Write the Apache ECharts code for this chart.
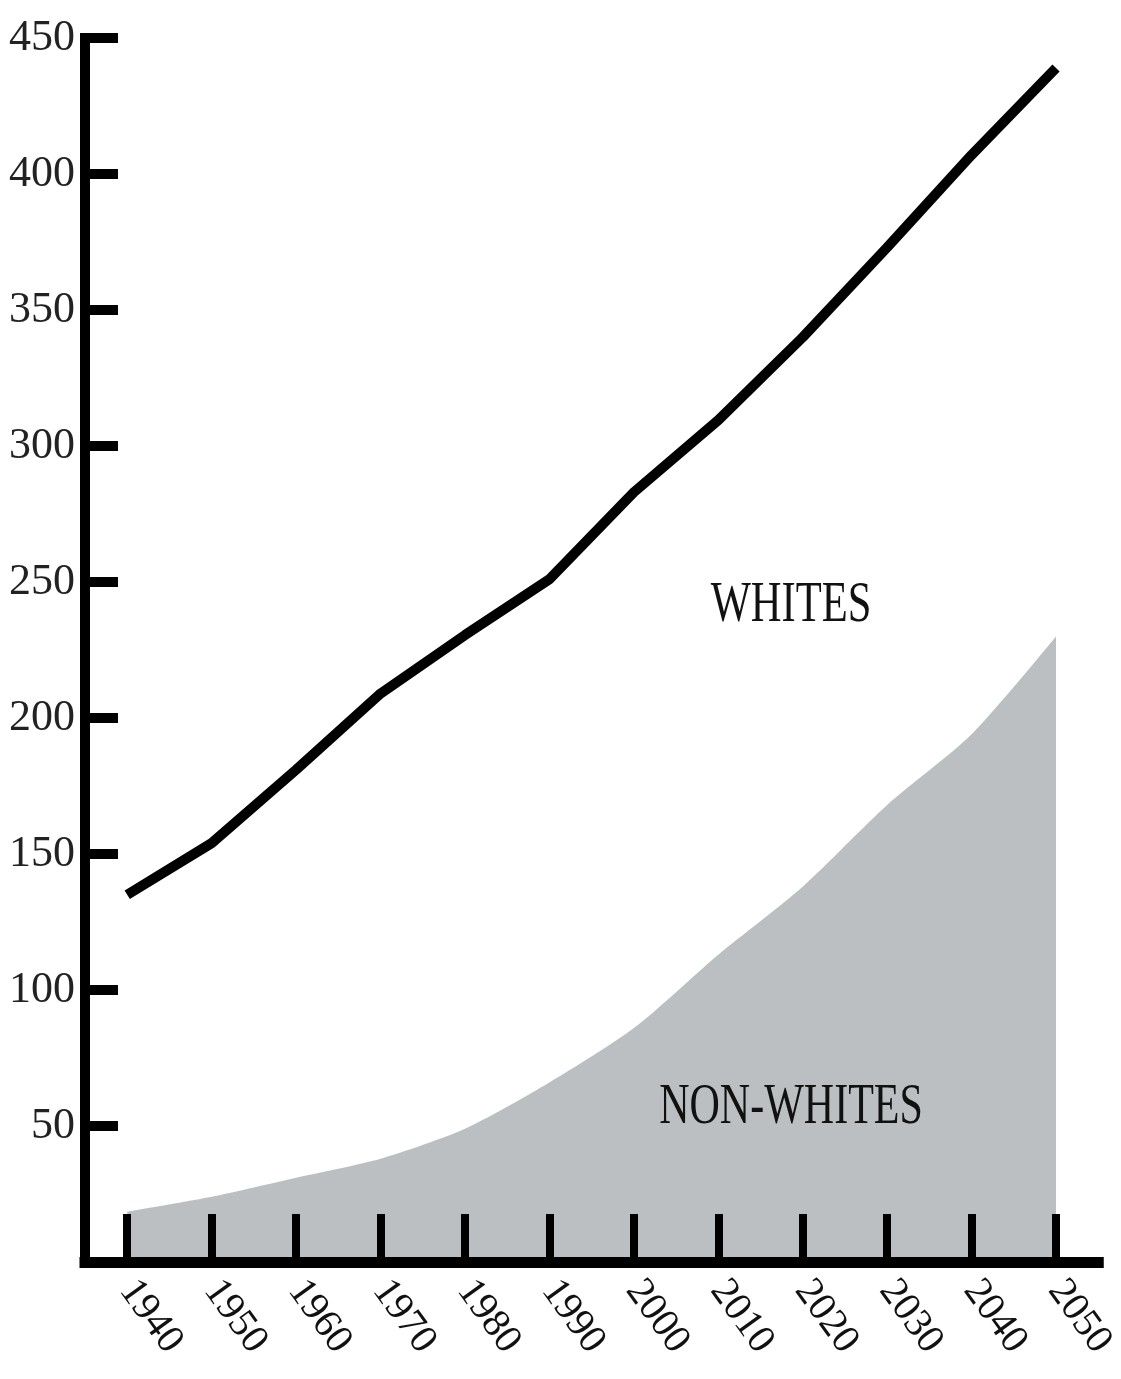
<!DOCTYPE html>
<html>
<head>
<meta charset="utf-8">
<script src="https://cdn.jsdelivr.net/npm/echarts@6/dist/echarts.min.js"></script>
<style>
  html, body { margin: 0; padding: 0; background: #ffffff; }
  #chart { width: 1121px; height: 1379px; }
</style>
</head>
<body>
<div id="chart"></div>
<script>
// Data
var years = [1940, 1950, 1960, 1970, 1980, 1990, 2000, 2010, 2020, 2030, 2040, 2050];
var totalLine = [135, 154, 181, 209, 230.5, 251, 283, 309.5, 340, 373, 407, 439];
var nonWhites = [18.5, 24, 31, 38, 49, 66, 86, 113, 138, 168, 194, 230];
var yTicks = [50, 100, 150, 200, 250, 300, 350, 400, 450];
var labelWhites = 'WHITES';
var labelNonWhites = 'NON-WHITES';

var serif = '"Liberation Serif", "DejaVu Serif", serif';

function pairs(xs, ys) {
  return xs.map(function (x, i) { return [x, ys[i]]; });
}

var chart = echarts.init(document.getElementById('chart'));
chart.setOption({
  backgroundColor: '#ffffff',
  animation: false,
  grid: { left: 85, right: 16, top: 38, bottom: 117, containLabel: false },
  xAxis: {
    type: 'value',
    min: 1935,
    max: 2055,
    z: 10,
    splitLine: { show: false },
    axisLine: { show: true, lineStyle: { color: '#000', width: 11, cap: 'square' } },
    axisTick: { show: true, inside: true, length: 48, lineStyle: { color: '#000', width: 8 }, customValues: years },
    axisLabel: {
      show: true, customValues: years, rotate: -54, margin: 22,
      fontFamily: serif, fontSize: 40, color: '#111',
      formatter: function (v) { return String(v); }
    }
  },
  yAxis: {
    type: 'value',
    min: 0,
    max: 450,
    interval: 50,
    z: 10,
    splitLine: { show: false },
    axisLine: { show: true, lineStyle: { color: '#000', width: 10, cap: 'square' } },
    axisTick: { show: true, inside: true, length: 33, lineStyle: { color: '#000', width: 10 }, customValues: yTicks },
    axisLabel: {
      show: true, customValues: yTicks, margin: 10,
      fontFamily: serif, fontSize: 44, color: '#222'
    }
  },
  series: [
    {
      type: 'line',
      name: 'Non-whites',
      data: pairs(years, nonWhites),
      smooth: 0.25,
      symbol: 'none',
      lineStyle: { width: 0, color: '#bcbfc1' },
      itemStyle: { color: '#bcbfc1' },
      areaStyle: { color: '#bcbfc1', opacity: 1 },
      z: 2
    },
    {
      type: 'line',
      name: 'Total',
      data: pairs(years, totalLine),
      smooth: false,
      symbol: 'none',
      lineStyle: { width: 10, color: '#000' },
      z: 3
    }
  ],
  graphic: [
    {
      type: 'text', x: 791, y: 606, scaleX: 0.76, z: 20,
      style: { text: labelWhites, font: '56px ' + serif, fill: '#111', align: 'center', verticalAlign: 'middle' }
    },
    {
      type: 'text', x: 791, y: 1108, scaleX: 0.75, z: 20,
      style: { text: labelNonWhites, font: '56px ' + serif, fill: '#111', align: 'center', verticalAlign: 'middle' }
    }
  ]
});
</script>
</body>
</html>
